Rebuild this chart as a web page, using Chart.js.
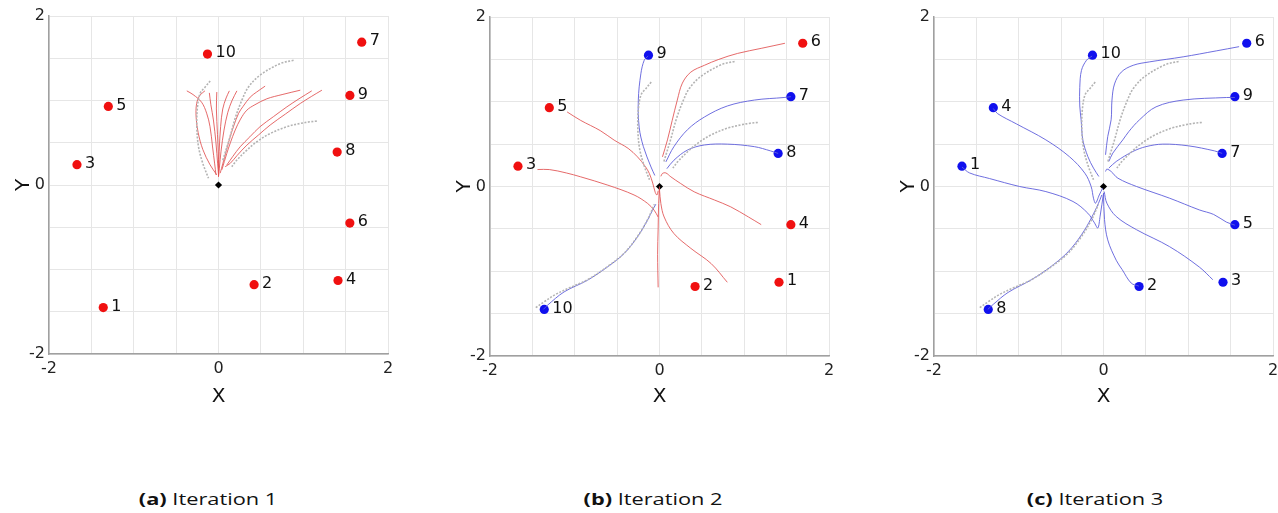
<!DOCTYPE html>
<html><head><meta charset="utf-8">
<script src="https://cdn.jsdelivr.net/npm/chart.js@4.4.1/dist/chart.umd.min.js"></script>
<style>
body{margin:0;background:#fff;width:1278px;height:513px;overflow:hidden;position:relative;}
canvas{position:absolute;top:0;}
.cap{position:absolute;top:489px;font-family:'Open Sans';font-size:16px;line-height:20px;color:#111;transform:translateX(-50%) scaleX(1.36);white-space:nowrap;}
.cap b{font-weight:700;}
</style></head><body>
<canvas id="ca" width="399" height="420" style="left:-1px"></canvas>
<canvas id="cb" width="399" height="420" style="left:440px"></canvas>
<canvas id="cc" width="394" height="420" style="left:884px"></canvas>
<div class="cap" style="left:208px"><b>(a)</b> Iteration 1</div>
<div class="cap" style="left:653px"><b>(b)</b> Iteration 2</div>
<div class="cap" style="left:1095px"><b>(c)</b> Iteration 3</div>
<script>
// robot goal positions
const robotX = [-1.36, 0.42, -1.67, 1.41, -1.30, 1.55, 1.69, 1.40, 1.55, -0.13];
const robotY = [-1.45, -1.18, 0.24, -1.13, 0.93, -0.45, 1.69, 0.39, 1.06, 1.55];
const labelsA = ['1','2','3','4','5','6','7','8','9','10'];
const labelsB = ['10','2','3','1','5','4','6','8','7','9'];
const labelsC = ['8','2','1','3','4','5','6','7','9','10'];
const colorsA = ['r','r','r','r','r','r','r','r','r','r'];
const colorsB = ['b','r','r','r','r','r','r','b','b','b'];
const colorsC = ['b','b','b','b','b','b','b','b','b','b'];
const xTickLabels = ['-2','0','2'];
const yTickLabels = ['-2','0','2'];

// reference (gray dotted) trajectories
const g1 = [[-0.098,1.232],[-0.157,1.16],[-0.217,1.083],[-0.248,0.925],[-0.256,0.69],[-0.236,0.453],[-0.185,0.256],[-0.118,0.079]];
const g2 = [[0.886,1.476],[0.728,1.437],[0.49,1.30],[0.354,1.16],[0.276,1.004],[0.20,0.80],[0.13,0.55],[0.05,0.29]];
const g3 = [[1.16,0.756],[1.08,0.748],[0.965,0.728],[0.807,0.69],[0.61,0.61],[0.453,0.512],[0.335,0.413],[0.217,0.295],[0.157,0.217]];
const g4 = [[-1.46,-1.43],[-1.36,-1.36],[-1.22,-1.27],[-1.05,-1.19],[-0.85,-1.10],[-0.614,-0.945],[-0.417,-0.787],[-0.26,-0.59],[-0.142,-0.395],[-0.06,-0.21]];

// iteration 1 trajectories (red)
const a1 = [[-0.374,1.114],[-0.30,1.07],[-0.2,0.98],[-0.14,0.85],[-0.10,0.69],[-0.07,0.45],[-0.045,0.25],[-0.03,0.12]];
const a2 = [[-0.16,1.114],[-0.218,1.063],[-0.258,0.965],[-0.264,0.80],[-0.24,0.62],[-0.185,0.42],[-0.10,0.24],[-0.02,0.12]];
const a3 = [[-0.02,1.10],[-0.025,0.9],[-0.012,0.6],[0,0.3],[0,0.1]];
const a4 = [[0.128,1.114],[0.09,1.03],[0.05,0.9],[0.025,0.69],[0.008,0.4],[0,0.1]];
const a5 = [[0.217,1.114],[0.16,1.0],[0.11,0.86],[0.065,0.65],[0.03,0.4],[0.01,0.2],[0,0.1]];
const a6 = [[0.55,1.17],[0.45,1.10],[0.374,1.04],[0.29,0.93],[0.236,0.846],[0.18,0.70],[0.138,0.57],[0.09,0.40],[0.05,0.25],[0.02,0.14]];
const a7 = [[0.965,1.122],[0.75,1.07],[0.57,1.02],[0.43,0.95],[0.335,0.886],[0.26,0.78],[0.197,0.65],[0.14,0.50],[0.098,0.374],[0.04,0.18]];
const a8 = [[1.10,1.114],[0.95,1.02],[0.807,0.925],[0.65,0.81],[0.49,0.69],[0.37,0.57],[0.256,0.453],[0.17,0.34],[0.098,0.236]];
const a9 = [[1.22,1.122],[1.10,1.05],[0.965,0.965],[0.79,0.84],[0.61,0.71],[0.47,0.59],[0.335,0.472],[0.22,0.35],[0.138,0.256],[0.079,0.217]];
const a10 = [[-0.108,1.09],[-0.09,0.95],[-0.06,0.77],[-0.03,0.5],[-0.01,0.25],[0,0.12]];

// iteration 2 trajectories
const b1 = [[0,-0.04],[0.016,-0.2],[0.055,-0.36],[0.17,-0.555],[0.37,-0.73],[0.61,-0.91],[0.80,-1.13]];
const b2 = [[0,0],[-0.01,-0.2],[-0.016,-0.5],[-0.022,-0.8],[-0.016,-1.19]];
const b3 = [[-1.44,0.20],[-1.30,0.20],[-1.10,0.16],[-0.93,0.114],[-0.61,0.016],[-0.30,-0.10],[-0.14,-0.20],[-0.063,-0.28],[-0.016,-0.36]];
const b4 = [[1.20,-0.45],[1.05,-0.36],[0.84,-0.24],[0.65,-0.16],[0.41,-0.063],[0.25,0.035],[0.134,0.114],[0.075,0.16],[0.035,0.154],[0.016,0.12]];
const b5 = [[-1.09,0.88],[-0.93,0.78],[-0.70,0.66],[-0.535,0.547],[-0.37,0.45],[-0.26,0.35],[-0.17,0.24],[-0.12,0.154],[-0.08,0.04],[-0.05,-0.07],[-0.03,-0.10],[-0.015,-0.05]];
const b6 = [[1.48,1.69],[1.2,1.63],[0.92,1.57],[0.70,1.50],[0.53,1.43],[0.37,1.35],[0.27,1.22],[0.21,1.02],[0.15,0.78],[0.094,0.55],[0.035,0.35]];
const b7 = [[1.55,1.06],[1.47,1.05],[1.12,1.02],[0.80,0.95],[0.53,0.82],[0.33,0.67],[0.17,0.47],[0.075,0.29]];
const b8 = [[1.40,0.39],[1.31,0.42],[1.12,0.47],[0.80,0.50],[0.53,0.49],[0.33,0.43],[0.17,0.31],[0.087,0.21]];
const b9 = [[-0.134,1.54],[-0.18,1.49],[-0.22,1.33],[-0.25,1.02],[-0.24,0.70],[-0.19,0.47],[-0.10,0.23],[-0.055,0.13]];
const b10 = [[-1.37,-1.45],[-1.32,-1.40],[-1.126,-1.244],[-0.85,-1.106],[-0.614,-0.949],[-0.417,-0.79],[-0.26,-0.594],[-0.142,-0.398],[-0.083,-0.28],[-0.043,-0.209]];
const bColors = ['r','r','r','r','r','r','b','b','b','b'];

// iteration 3 trajectories (blue)
const c1 = [[-1.67,0.23],[-1.58,0.16],[-1.345,0.094],[-0.99,0],[-0.68,-0.06],[-0.36,-0.177],[-0.185,-0.315],[-0.106,-0.43],[-0.067,-0.49],[-0.04,-0.35],[0,-0.08]];
const c2 = [[0.417,-1.175],[0.327,-1.14],[0.22,-0.98],[0.15,-0.87],[0.05,-0.63],[0.012,-0.39],[0,-0.08]];
const c3 = [[1.29,-1.10],[1.13,-0.95],[0.78,-0.71],[0.39,-0.51],[0.15,-0.354],[0.04,-0.197],[0.008,-0.06]];
const c4 = [[-1.30,0.92],[-1.25,0.86],[-1.03,0.74],[-0.68,0.55],[-0.40,0.35],[-0.22,0.157],[-0.146,0],[-0.118,-0.138],[-0.094,-0.197],[-0.05,-0.10],[-0.01,-0.02]];
const c5 = [[1.55,-0.456],[1.45,-0.42],[1.30,-0.33],[1.13,-0.276],[0.78,-0.138],[0.39,0],[0.17,0.098],[0.09,0.177],[0.04,0.205],[0.024,0.177]];
const c6 = [[1.60,1.65],[1.33,1.60],[0.94,1.53],[0.54,1.47],[0.35,1.43],[0.21,1.35],[0.13,1.21],[0.10,1.02],[0.09,0.787],[0.05,0.59],[0.024,0.374]];
const c7 = [[1.40,0.39],[1.31,0.42],[1.0,0.48],[0.70,0.50],[0.50,0.47],[0.346,0.413],[0.15,0.295],[0.063,0.217]];
const c8 = [[-1.365,-1.45],[-1.30,-1.39],[-1.126,-1.25],[-0.85,-1.10],[-0.614,-0.94],[-0.417,-0.77],[-0.26,-0.57],[-0.142,-0.37],[-0.06,-0.20],[-0.02,-0.10]];
const c9 = [[1.55,1.05],[1.45,1.05],[0.94,1.02],[0.62,0.94],[0.425,0.787],[0.30,0.65],[0.228,0.55],[0.11,0.394],[0.063,0.295]];
const c10 = [[-0.134,1.54],[-0.20,1.49],[-0.26,1.37],[-0.28,1.17],[-0.28,0.95],[-0.264,0.787],[-0.244,0.55],[-0.185,0.354],[-0.118,0.217],[-0.055,0.118]];

const RED_LINE = 'rgba(225,80,80,0.85)', BLUE_LINE = 'rgba(95,95,220,0.9)';
const RED_PT = '#f01010', BLUE_PT = '#1010ee';
const toXY = arr => arr.map(p => ({x:p[0], y:p[1]}));

function lineDs(path, col){
  return {data:toXY(path), showLine:true, borderColor: col==='r'?RED_LINE:BLUE_LINE, borderWidth:1,
          pointRadius:0, tension:0.35, fill:false};
}
function grayDs(path){
  return {data:toXY(path), showLine:true, borderColor:'#b4b4b4', borderWidth:1.6, borderDash:[2,1.5],
          pointRadius:0, tension:0.35, fill:false};
}

const labelPlugin = {
  id:'robotLabels',
  afterDatasetsDraw(chart, args, opts){
    const ctx = chart.ctx, xs = chart.scales.x, ys = chart.scales.y;
    ctx.save();
    ctx.font = '16px "DejaVu Sans"';
    ctx.fillStyle = '#111';
    ctx.textBaseline = 'middle';
    ctx.textAlign = 'left';
    opts.labels.forEach((t,i) => {
      ctx.fillText(t, xs.getPixelForValue(robotX[i]) + 8, ys.getPixelForValue(robotY[i]) - 1);
    });
    ctx.restore();
  }
};

function makeChart(id, grays, paths, pathColors, labels, ptColors, top, right, plotH){
  const datasets = [];
  grays.forEach(g => datasets.push(grayDs(g)));
  paths.forEach((p,i) => datasets.push(lineDs(p, pathColors[i])));
  datasets.push({data: robotX.map((x,i)=>({x:x, y:robotY[i]})), showLine:false, pointRadius:4.6, pointBorderWidth:0,
                 pointBackgroundColor: ptColors.map(c => c==='r'?RED_PT:BLUE_PT), pointBorderColor:'rgba(0,0,0,0)'});
  datasets.push({data:[{x:0,y:0}], showLine:false, pointStyle:'rectRot', pointRadius:3.6, pointBorderWidth:0,
                 pointBackgroundColor:'#000', pointBorderColor:'#000'});
  const tickFont = {family:'DejaVu Sans', size:16};
  const titleFont = {family:'DejaVu Sans', size:20};
  const fitX = s => { s.height = 420 - top - plotH; s.paddingLeft = 0; s.paddingRight = 0; };
  const fitY = s => { s.width = 50; s.paddingTop = 0; s.paddingBottom = 0; };
  new Chart(document.getElementById(id), {
    type:'scatter',
    data:{datasets},
    options:{
      responsive:false, animation:false, events:[],
      layout:{padding:{top:top, right:right, left:0, bottom:0}},
      plugins:{legend:{display:false}, tooltip:{enabled:false}, robotLabels:{labels}},
      scales:{
        x:{type:'linear', min:-2, max:2,
           ticks:{stepSize:0.5, autoSkip:false, maxRotation:0, padding:5, color:'#222', font:tickFont,
                  callback:v => (Math.abs(v-Math.round(v/2)*2)<1e-9 ? xTickLabels[Math.round(v/2)+1] : '')},
           grid:{color:'#e6e6e6', lineWidth:1, drawTicks:false},
           border:{color:'#a0a0a0', width:1.5},
           title:{display:true, text:'X', color:'#111', font:titleFont, padding:{top:0, bottom:11}},
           afterFit: fitX},
        y:{type:'linear', min:-2, max:2,
           ticks:{stepSize:0.5, autoSkip:false, padding:4, color:'#222', font:tickFont,
                  callback:v => (Math.abs(v-Math.round(v/2)*2)<1e-9 ? yTickLabels[Math.round(v/2)+1] : '')},
           grid:{color:'#e6e6e6', lineWidth:1, drawTicks:false},
           border:{color:'#a0a0a0', width:1.5},
           title:{display:true, text:'Y', color:'#111', font:titleFont, padding:{top:13, bottom:0}},
           afterFit: fitY}
      }
    },
    plugins:[labelPlugin]
  });
}

makeChart('ca', [g1,g2,g3], [a1,a2,a3,a4,a5,a6,a7,a8,a9,a10], colorsA.map(()=> 'r'), labelsA, colorsA, 16, 10, 338);
makeChart('cb', [g1,g2,g3,g4], [b1,b2,b3,b4,b5,b6,b7,b8,b9,b10], bColors, labelsB, colorsB, 17, 10, 339);
makeChart('cc', [g1,g2,g3,g4], [c1,c2,c3,c4,c5,c6,c7,c8,c9,c10], colorsC.map(()=> 'b'), labelsC, colorsC, 17, 5, 339);
</script>
</body></html>
